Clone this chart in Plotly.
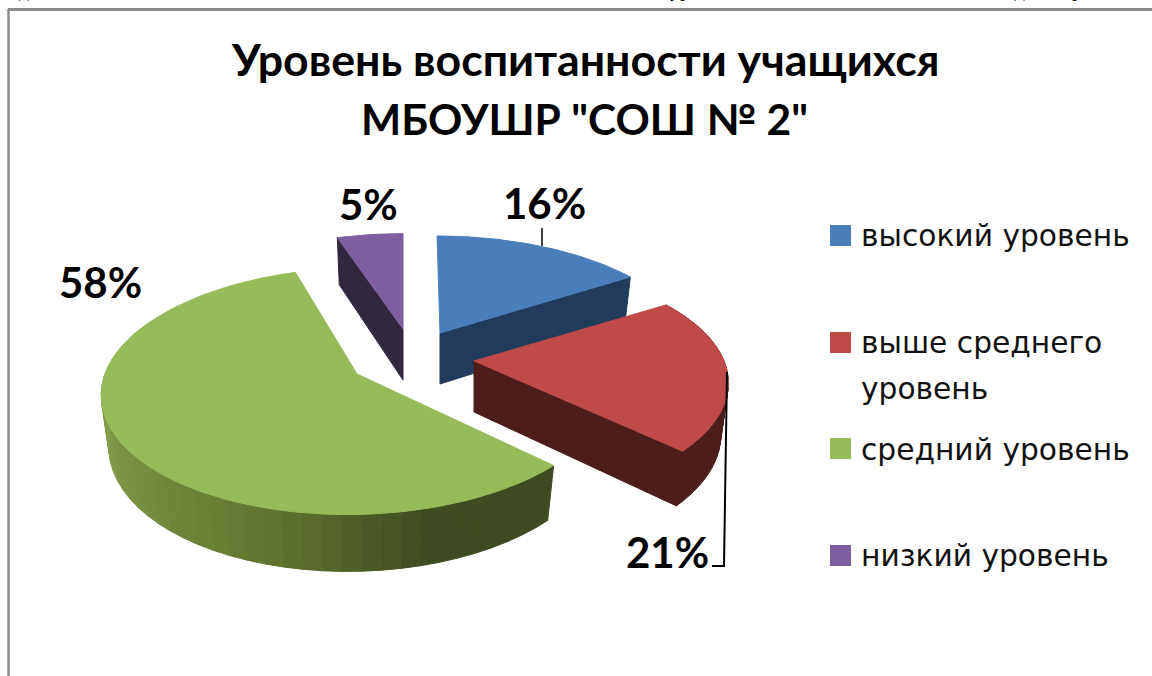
import numpy as np
import plotly.graph_objects as go

categories = ["высокий уровень", "выше среднего уровень", "средний уровень", "низкий уровень"]
values = [16, 21, 58, 5]
value_labels = ["16%", "21%", "58%", "5%"]
legend_lines = [["высокий уровень"], ["выше среднего", "уровень"], ["средний уровень"], ["низкий уровень"]]
top_colors = ["#4A7EBB", "#BE4B48", "#98BB59", "#7D5FA0"]
wall_colors = ["#213B5C", "#4D1D1C", "#3E4A20", "#312840"]

# exploded slice centres and per-slice projection settings, in page pixels
APEX = [(440, 333), (474, 361), (357, 374), (403, 329)]
PROJ_R = [250, 250, 252, 250]
PROJ_RY = [115, 115, 121, 113]
PROJ_K = [0.185, 0.185, 0.139, 0.185]
PROJ_SHEAR = [0.03, 0.0, -0.07, 0.0]
FONT_HEAD = "Lato"
FONT_LEG = "DejaVu Sans"


def project(i, theta):
    X, Y = np.sin(theta), np.cos(theta)
    s = 1 / (1 + PROJ_K[i] * Y)
    y = -PROJ_RY[i] * Y * s
    return PROJ_R[i] * X * s + PROJ_SHEAR[i] * y, y


def top_pt(i, theta):
    x, y = project(i, theta)
    return APEX[i][0] + x, APEX[i][1] + y


def bot_pt(i, theta):
    x, y = project(i, theta)
    return APEX[i][0] + 0.97 * x, APEX[i][1] + 51 + 1.042 * y


def poly(fig, xs, ys, color):
    xs, ys = list(xs), list(ys)
    fig.add_trace(go.Scatter(x=xs + xs[:1], y=ys + ys[:1], mode="lines", fill="toself",
                             fillcolor=color, line=dict(color=color, width=1),
                             hoverinfo="skip", showlegend=False))


edges = np.radians(np.concatenate([[0], np.cumsum(values)]) * 3.6)
fig = go.Figure()


def top_face(i):
    a = np.linspace(edges[i], edges[i + 1], 90)
    p = [top_pt(i, t) for t in a]
    poly(fig, [APEX[i][0]] + [q[0] for q in p], [APEX[i][1]] + [q[1] for q in p], top_colors[i])


def radial_wall(i, theta):
    ap = APEX[i]
    e, eb = top_pt(i, theta), bot_pt(i, theta)
    poly(fig, [ap[0], e[0], eb[0], ap[0]], [ap[1], e[1], eb[1], ap[1] + 51], wall_colors[i])


def arc_wall(i, a0, a1, n, colorfn):
    a = np.linspace(a0, a1, n + 1)
    for t0, t1 in zip(a[:-1], a[1:]):
        p0, p1 = top_pt(i, t0), top_pt(i, t1)
        q0, q1 = bot_pt(i, t0), bot_pt(i, t1)
        poly(fig, [p0[0], p1[0], q1[0], q0[0]], [p0[1], p1[1], q1[1], q0[1]], colorfn((t0 + t1) / 2))


def green_shade(t):
    d = np.degrees(t)
    c = [np.interp(d, [133, 165, 195, 235, 280], ch) for ch in
         ([62, 64, 98, 122, 138], [74, 76, 117, 145, 165], [32, 33, 48, 66, 78])]
    return "rgb(%d,%d,%d)" % tuple(c)


# purple
radial_wall(3, edges[3])
top_face(3)
# blue
radial_wall(0, edges[1])
top_face(0)
# red
arc_wall(1, edges[1], edges[2], 30, lambda t: wall_colors[1])
radial_wall(1, edges[2])
top_face(1)
# green
arc_wall(2, edges[2], edges[2] + np.radians(160), 40, green_shade)
top_face(2)

# leader lines
fig.add_trace(go.Scatter(x=[542, 542], y=[228, 246], mode="lines", line=dict(color="black", width=1.5),
                         hoverinfo="skip", showlegend=False))
fig.add_trace(go.Scatter(x=[727, 724, 712], y=[372, 566, 566], mode="lines", line=dict(color="black", width=2),
                         hoverinfo="skip", showlegend=False))

# legend keys
legend_y = [235.5, 342.5, 448.5, 555.5]
for name, c, y in zip(categories, top_colors, legend_y):
    fig.add_trace(go.Scatter(x=[840.5], y=[y], mode="markers", name=name,
                             marker=dict(symbol="square", size=21, color=c), hoverinfo="skip", showlegend=False))

ann = []


def text(x, y, s, size, font, color="#000000", bold=False, anchor="center"):
    ann.append(dict(x=x, y=y, xref="x", yref="y", text=f"<b>{s}</b>" if bold else s, showarrow=False,
                    xanchor=anchor, yanchor="middle", font=dict(family=font, size=size, color=color)))


text(585, 59, "Уровень воспитанности учащихся", 44.7, FONT_HEAD, bold=True)
text(584, 118, 'МБОУШР "СОШ № 2"', 42.5, FONT_HEAD, bold=True)
text(544, 203, value_labels[0], 42, FONT_HEAD, bold=True)
text(667, 552, value_labels[1], 42, FONT_HEAD, bold=True)
text(100, 282, value_labels[2], 42, FONT_HEAD, bold=True)
text(368, 204, value_labels[3], 42, FONT_HEAD, bold=True)

legend_text_y = [[235], [342, 388], [449], [555]]
for lines, ys in zip(legend_lines, legend_text_y):
    for s, y in zip(lines, ys):
        text(859, y, s, 29.7, FONT_LEG, color="#111111", anchor="left")

# fragments of the cut-off line of page text above the frame (clipped in the reference too)
for x, s in [(24, "д"), (680, "ур"), (1016, "(д"), (1077, "р")]:
    ann.append(dict(x=x, y=1, xref="x", yref="paper", yshift=-3, text=s, showarrow=False, xanchor="center",
                    yanchor="bottom", font=dict(family="Liberation Serif", size=20, color="black")))

fig.update_layout(
    width=1152, height=676, margin=dict(l=0, r=0, t=0, b=0), paper_bgcolor="white", plot_bgcolor="white",
    xaxis=dict(range=[0, 1152], visible=False, fixedrange=True),
    yaxis=dict(range=[676, 0], visible=False, fixedrange=True),
    annotations=ann,
    shapes=[
        dict(type="line", xref="x", yref="y", x0=8, x1=1152, y0=9.5, y1=9.5, line=dict(color="#8C8C8C", width=3)),
        dict(type="line", xref="x", yref="y", x0=8.5, x1=8.5, y0=9, y1=676, line=dict(color="#8C8C8C", width=2.5)),
    ],
)
fig.write_html("out.html", config={"displayModeBar": False},
               post_script="document.body.style.margin='0';document.body.style.overflow='hidden';")
